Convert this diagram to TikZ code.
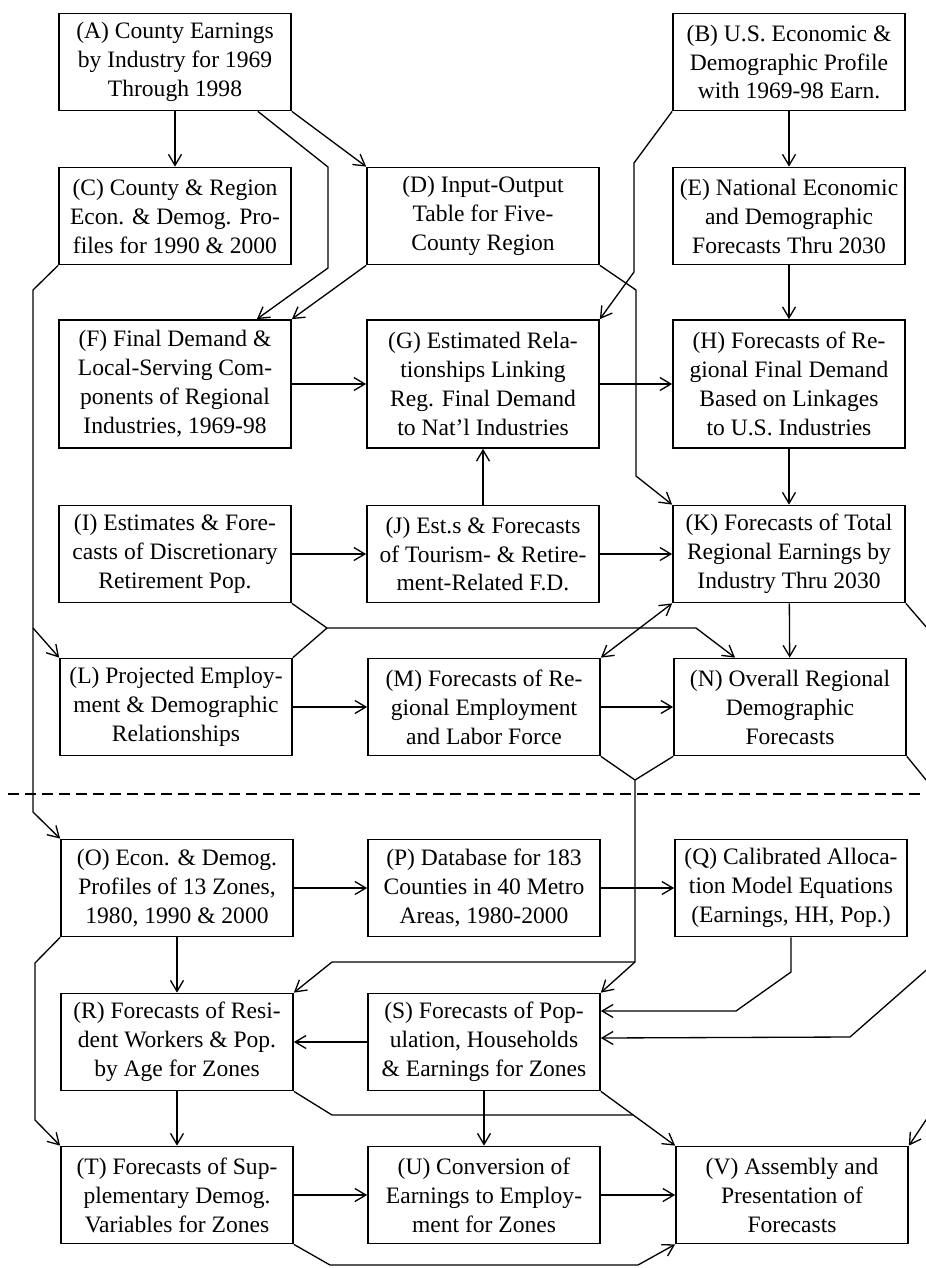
\documentclass[tikz,border=0pt]{standalone}
\usepackage{fontspec}
\setmainfont{Liberation Serif}
\usetikzlibrary{arrows.meta}

\begin{document}
\begin{tikzpicture}[x=0.02cm, y=-0.02cm,
    >={Straight Barb[length=2.2mm,width=2.6mm]},
    box/.style={rectangle, draw, line width=1pt, minimum width=4.64cm, minimum height=1.94cm,
        align=center, inner sep=1pt, font=\fontsize{13.4}{16.5}\selectfont},
    tallbox/.style={box, minimum height=2.56cm},
    conn/.style={line width=0.75pt, ->},
    link/.style={line width=0.75pt}]
    \useasboundingbox (0,0) rectangle (926,1268);
    \clip (0,0) rectangle (926,1268);

    % Draw nodes
    \node[box] (A) at (175,62) {(A) County Earnings\\by Industry for 1969\\Through 1998};
    \node[box] (B) at (789,62) {(B) U.S. Economic \&\\Demographic Profile\\with 1969-98 Earn.};
    \node[box] (C) at (175,216) {(C) County \& Region\\Econ. \& Demog. Pro-\\files for 1990 \& 2000};
    \node[box] (D) at (483,216) {(D) Input-Output\\Table for Five-\\County Region};
    \node[box] (E) at (789,216) {(E) National Economic\\and Demographic\\Forecasts Thru 2030};
    \node[tallbox] (F) at (175,384) {(F) Final Demand \&\\Local-Serving Com-\\ponents of Regional\\Industries, 1969-98};
    \node[tallbox] (G) at (483,384) {(G) Estimated Rela-\\tionships Linking\\Reg. Final Demand\\to Nat'l Industries};
    \node[tallbox] (H) at (789,384) {(H) Forecasts of Re-\\gional Final Demand\\Based on Linkages\\to U.S. Industries};
    \node[box] (I) at (175,554) {(I) Estimates \& Fore-\\casts of Discretionary\\Retirement Pop.};
    \node[box] (J) at (483,554) {(J) Est.s \& Forecasts\\of Tourism- \& Retire-\\ment-Related F.D.};
    \node[box] (K) at (789,554) {(K) Forecasts of Total\\Regional Earnings by\\Industry Thru 2030};
    \node[box] (L) at (176,707) {(L) Projected Employ-\\ment \& Demographic\\Relationships};
    \node[box] (M) at (484,707) {(M) Forecasts of Re-\\gional Employment\\and Labor Force};
    \node[box] (N) at (790,707) {(N) Overall Regional\\Demographic\\Forecasts};
    \node[box] (O) at (177,888) {(O) Econ. \& Demog.\\Profiles of 13 Zones,\\1980, 1990 \& 2000};
    \node[box] (P) at (484,888) {(P) Database for 183\\Counties in 40 Metro\\Areas, 1980-2000};
    \node[box] (Q) at (791,888) {(Q) Calibrated Alloca-\\tion Model Equations\\(Earnings, HH, Pop.)};
    \node[box] (R) at (177,1042) {(R) Forecasts of Resi-\\dent Workers \& Pop.\\by Age for Zones};
    \node[box] (S) at (484,1042) {(S) Forecasts of Pop-\\ulation, Households\\\& Earnings for Zones};
    \node[box] (T) at (177,1195) {(T) Forecasts of Sup-\\plementary Demog.\\Variables for Zones};
    \node[box] (U) at (484,1195) {(U) Conversion of\\Earnings to Employ-\\ment for Zones};
    \node[box] (V) at (792,1195) {(V) Assembly and\\Presentation of\\Forecasts};

    % Junctions
    \coordinate (cl) at (33,628);
    \coordinate (il) at (327,628);
    \coordinate (mn) at (635,780);
    \coordinate (sr) at (635,962);
    \coordinate (rt) at (940,643);
    \coordinate (rs) at (940,958);
    \coordinate (rv) at (940,1099);
    \coordinate (rj) at (633,1115);

    % Draw connections
    \draw[conn] (A) -- (C);
    \draw[conn] (A.south east) -- (D.north west);
    \draw[conn] ([xshift=-0.68cm]A.south east) -- (328,167) -- (328,268) -- ([xshift=-0.7cm]F.north east);
    \draw[conn] (D.south west) -- (F.north east);
    \draw[conn] (B) -- (E);
    \draw[conn] (B.south west) -- (634,163) -- (634,272) -- (G.north east);
    \draw[conn] (E) -- (H);
    \draw[conn] (D.south east) -- (636,290) -- (636,476) -- (K.north west);
    \draw[conn] (F) -- (G);
    \draw[conn] (G) -- (H);
    \draw[conn] (J) -- (G);
    \draw[conn] (H) -- (K);
    \draw[conn] (I) -- (J);
    \draw[conn] (J) -- (K);
    \draw[conn] (I.south east) -- (il) -- (696,628) -- ([xshift=-1.1cm]N.north);
    \draw[link] (L.north east) -- (il);
    \draw[conn, <->] (K.south west) -- (M.north east);
    \draw[conn] (K) -- (N);
    \draw[conn] (L) -- (M);
    \draw[conn] (M) -- (N);

    % Links across the line
    \draw[link] (C.south west) -- (33,290) -- (cl);
    \draw[conn] (cl) -- (L.north west);
    \draw[conn] (cl) -- (33,812) -- (O.north west);
    \draw[link] (M.south east) -- (mn) -- (sr);
    \draw[link] (N.south west) -- (mn);
    \draw[conn] (sr) -- (S.north east);
    \draw[conn] (sr) -- (332,962) -- (R.north east);
    \draw[link] (K.south east) -- (rt) -- (rv);
    \draw[link] (N.south east) -- (940,797);
    \draw[conn] (rs) -- (850,1037) -- ([yshift=0.08cm]S.east);
    \draw[conn] (rv) -- (V.north east);

    % Zone level
    \draw[conn] (O) -- (P);
    \draw[conn] (P) -- (Q);
    \draw[conn] (O) -- (R);
    \draw[conn] (O.south west) -- (35,963) -- (35,1120) -- (T.north west);
    \draw[conn] (Q.south) -- (791,972) -- (736,1011) -- ([yshift=0.62cm]S.east);
    \draw[conn] (S) -- (R);
    \draw[conn] (R) -- (T);
    \draw[link] (R.south east) -- (332,1115) -- (rj);
    \draw[conn] (S.south east) -- (V.north west);
    \draw[conn] (S) -- (U);
    \draw[conn] (T) -- (U);
    \draw[conn] (U) -- (V);
    \draw[conn] (T.south east) -- (330,1265) -- (638,1265) -- (V.south west);

    % Dividing line
    \draw[line width=1pt, dash pattern=on 0.22cm off 0.12cm] (8,794) -- (926,794);
\end{tikzpicture}
\end{document}
